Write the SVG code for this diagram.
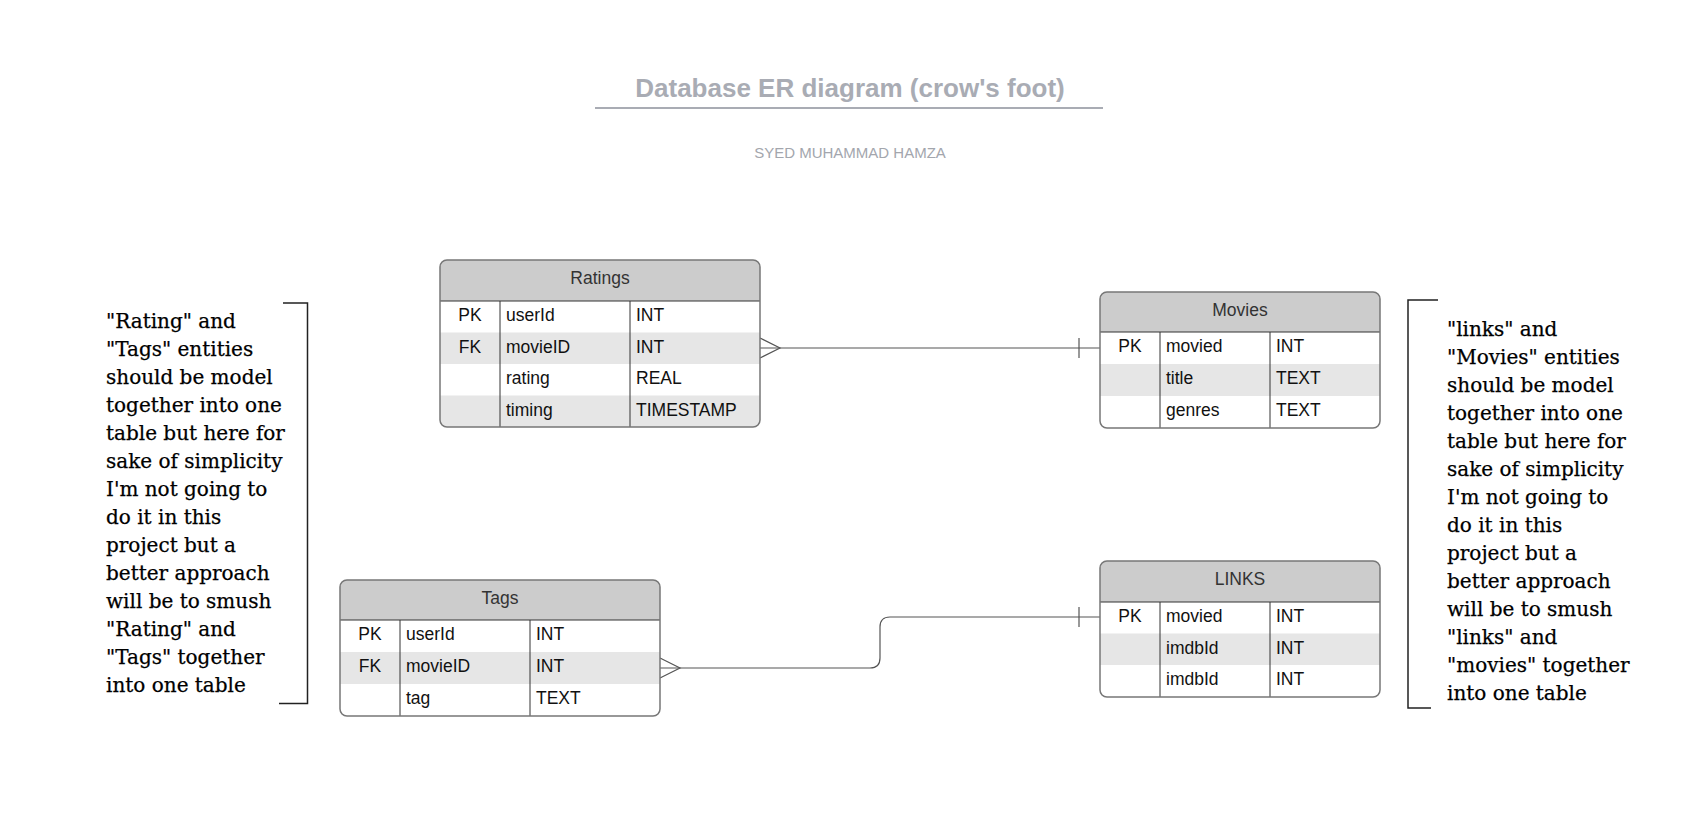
<svg xmlns="http://www.w3.org/2000/svg" width="1692" height="838" viewBox="0 0 1692 838">
<style>
.bg{fill:#ffffff}
.hdr{fill:#cccccc}
.alt{fill:#e6e6e6}
.outline{fill:none;stroke:#777777;stroke-width:1.5}
.div{stroke:#333333;stroke-width:1;fill:none}
.ttl{font-family:"Liberation Sans",Arial,sans-serif;font-size:17.5px;fill:#333333;text-anchor:middle}
.cell{font-family:"Liberation Sans",Arial,sans-serif;font-size:17.5px;fill:#111111}
.key{font-family:"Liberation Sans",Arial,sans-serif;font-size:17.5px;fill:#111111;text-anchor:middle}
.conn{fill:none;stroke:#555555;stroke-width:1.2}
.note{font-family:"DejaVu Serif","Liberation Serif",serif;font-size:20px;fill:#000000;stroke:#000000;stroke-width:0.25}
.brk{fill:none;stroke:#222222;stroke-width:1.5}
</style>
<defs>
<clipPath id="cR"><rect x="440" y="260" width="320" height="167" rx="7"/></clipPath>
<clipPath id="cM"><rect x="1100" y="292" width="280" height="136" rx="7"/></clipPath>
<clipPath id="cL"><rect x="1100" y="561" width="280" height="136" rx="7"/></clipPath>
<clipPath id="cT"><rect x="340" y="580" width="320" height="136" rx="7"/></clipPath>
</defs>

<g id="title">
<text x="850" y="97" font-family="Liberation Sans,Arial,sans-serif" font-size="26" font-weight="bold" fill="#a9acb4" text-anchor="middle">Database ER diagram (crow's foot)</text>
<line x1="595" y1="108" x2="1103" y2="108" stroke="#a9acb4" stroke-width="2"/>
<text x="850" y="158" font-family="Liberation Sans,Arial,sans-serif" font-size="15" fill="#a3a6ad" text-anchor="middle">SYED MUHAMMAD HAMZA</text>
</g>

<g id="connectors">
<path class="conn" d="M760 348 H1100"/>
<path class="conn" d="M760 338 L780 348 L760 358"/>
<path class="conn" d="M1079 338 V358"/>
<path class="conn" d="M660 668 H870 Q880 668 880 658 V627 Q880 617 890 617 H1100"/>
<path class="conn" d="M660 658 L680 668 L660 678"/>
<path class="conn" d="M1079 607 V627"/>
</g>

<g id="ratings">
<g clip-path="url(#cR)">
<rect class="bg" x="440" y="260" width="320" height="167"/>
<rect class="hdr" x="440" y="260" width="320" height="41"/>
<rect class="alt" x="440" y="332.5" width="320" height="31.5"/>
<rect class="alt" x="440" y="395.5" width="320" height="31.5"/>
</g>
<line class="div" x1="440" y1="301" x2="760" y2="301"/>
<line class="div" x1="500" y1="301" x2="500" y2="427"/>
<line class="div" x1="630" y1="301" x2="630" y2="427"/>
<rect class="outline" x="440" y="260" width="320" height="167" rx="7"/>
<text class="ttl" x="600" y="284">Ratings</text>
<text class="key" x="470" y="321">PK</text>
<text class="cell" x="506" y="321">userId</text>
<text class="cell" x="636" y="321">INT</text>
<text class="key" x="470" y="352.5">FK</text>
<text class="cell" x="506" y="352.5">movieID</text>
<text class="cell" x="636" y="352.5">INT</text>
<text class="cell" x="506" y="384">rating</text>
<text class="cell" x="636" y="384">REAL</text>
<text class="cell" x="506" y="415.5">timing</text>
<text class="cell" x="636" y="415.5">TIMESTAMP</text>
</g>

<g id="movies">
<g clip-path="url(#cM)">
<rect class="bg" x="1100" y="292" width="280" height="136"/>
<rect class="hdr" x="1100" y="292" width="280" height="40"/>
<rect class="alt" x="1100" y="364" width="280" height="32"/>
</g>
<line class="div" x1="1100" y1="332" x2="1380" y2="332"/>
<line class="div" x1="1160" y1="332" x2="1160" y2="428"/>
<line class="div" x1="1270" y1="332" x2="1270" y2="428"/>
<rect class="outline" x="1100" y="292" width="280" height="136" rx="7"/>
<text class="ttl" x="1240" y="316">Movies</text>
<text class="key" x="1130" y="352">PK</text>
<text class="cell" x="1166" y="352">movied</text>
<text class="cell" x="1276" y="352">INT</text>
<text class="cell" x="1166" y="384">title</text>
<text class="cell" x="1276" y="384">TEXT</text>
<text class="cell" x="1166" y="416">genres</text>
<text class="cell" x="1276" y="416">TEXT</text>
</g>

<g id="tags">
<g clip-path="url(#cT)">
<rect class="bg" x="340" y="580" width="320" height="136"/>
<rect class="hdr" x="340" y="580" width="320" height="40"/>
<rect class="alt" x="340" y="652" width="320" height="32"/>
</g>
<line class="div" x1="340" y1="620" x2="660" y2="620"/>
<line class="div" x1="400" y1="620" x2="400" y2="716"/>
<line class="div" x1="530" y1="620" x2="530" y2="716"/>
<rect class="outline" x="340" y="580" width="320" height="136" rx="7"/>
<text class="ttl" x="500" y="604">Tags</text>
<text class="key" x="370" y="640">PK</text>
<text class="cell" x="406" y="640">userId</text>
<text class="cell" x="536" y="640">INT</text>
<text class="key" x="370" y="672">FK</text>
<text class="cell" x="406" y="672">movieID</text>
<text class="cell" x="536" y="672">INT</text>
<text class="cell" x="406" y="704">tag</text>
<text class="cell" x="536" y="704">TEXT</text>
</g>

<g id="links">
<g clip-path="url(#cL)">
<rect class="bg" x="1100" y="561" width="280" height="136"/>
<rect class="hdr" x="1100" y="561" width="280" height="41"/>
<rect class="alt" x="1100" y="633.5" width="280" height="31.5"/>
</g>
<line class="div" x1="1100" y1="602" x2="1380" y2="602"/>
<line class="div" x1="1160" y1="602" x2="1160" y2="697"/>
<line class="div" x1="1270" y1="602" x2="1270" y2="697"/>
<rect class="outline" x="1100" y="561" width="280" height="136" rx="7"/>
<text class="ttl" x="1240" y="585">LINKS</text>
<text class="key" x="1130" y="622">PK</text>
<text class="cell" x="1166" y="622">movied</text>
<text class="cell" x="1276" y="622">INT</text>
<text class="cell" x="1166" y="653.5">imdbId</text>
<text class="cell" x="1276" y="653.5">INT</text>
<text class="cell" x="1166" y="685">imdbId</text>
<text class="cell" x="1276" y="685">INT</text>
</g>

<g id="note-left">
<path class="brk" d="M283 303 H307.5 V703.5 H279"/>
<text class="note">
<tspan x="106" y="328">"Rating" and</tspan>
<tspan x="106" y="356">"Tags" entities</tspan>
<tspan x="106" y="384">should be model</tspan>
<tspan x="106" y="412">together into one</tspan>
<tspan x="106" y="440">table but here for</tspan>
<tspan x="106" y="468">sake of simplicity</tspan>
<tspan x="106" y="496">I'm not going to</tspan>
<tspan x="106" y="524">do it in this</tspan>
<tspan x="106" y="552">project but a</tspan>
<tspan x="106" y="580">better approach</tspan>
<tspan x="106" y="608">will be to smush</tspan>
<tspan x="106" y="636">"Rating" and</tspan>
<tspan x="106" y="664">"Tags" together</tspan>
<tspan x="106" y="692">into one table</tspan>
</text>
</g>

<g id="note-right">
<path class="brk" d="M1438 300 H1408 V708 H1431"/>
<text class="note">
<tspan x="1447" y="336">"links" and</tspan>
<tspan x="1447" y="364">"Movies" entities</tspan>
<tspan x="1447" y="392">should be model</tspan>
<tspan x="1447" y="420">together into one</tspan>
<tspan x="1447" y="448">table but here for</tspan>
<tspan x="1447" y="476">sake of simplicity</tspan>
<tspan x="1447" y="504">I'm not going to</tspan>
<tspan x="1447" y="532">do it in this</tspan>
<tspan x="1447" y="560">project but a</tspan>
<tspan x="1447" y="588">better approach</tspan>
<tspan x="1447" y="616">will be to smush</tspan>
<tspan x="1447" y="644">"links" and</tspan>
<tspan x="1447" y="672">"movies" together</tspan>
<tspan x="1447" y="700">into one table</tspan>
</text>
</g>
</svg>
